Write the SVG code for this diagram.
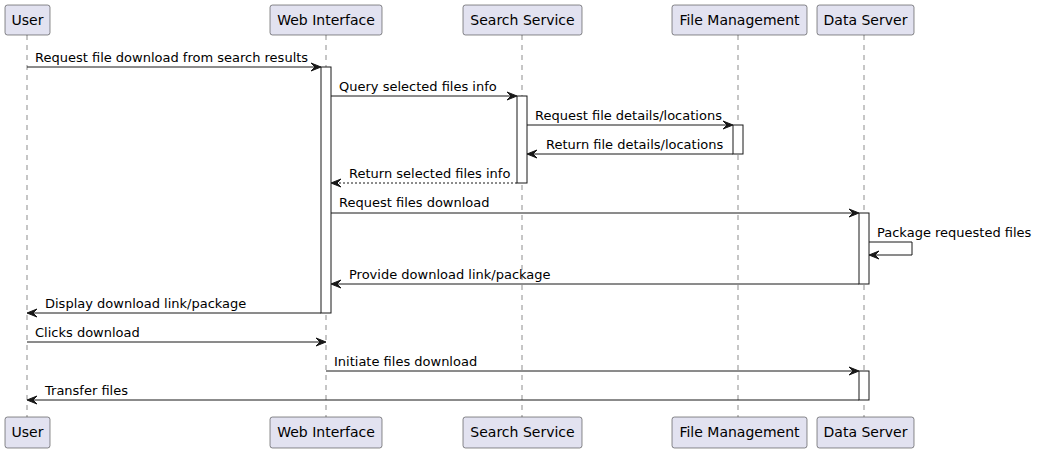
<svg xmlns="http://www.w3.org/2000/svg" width="1039" height="453" viewBox="0 0 1039 453">
<style>
.box{fill:#E2E2F0;stroke:#181818;stroke-width:0.5}
.life{stroke:#181818;stroke-width:0.5;stroke-dasharray:5,5;fill:none}
.act{fill:#FFFFFF;stroke:#181818;stroke-width:1}
.pt{font-family:"DejaVu Sans",sans-serif;font-size:14px;fill:#000000;text-anchor:middle}
.mt{font-family:"DejaVu Sans",sans-serif;font-size:13px;fill:#000000}
.msg{stroke:#181818;stroke-width:1;fill:none}
.dash{stroke-dasharray:2,2}
.ah{fill:#181818;stroke:#181818;stroke-width:1}
</style>
<rect width="1039" height="453" fill="#FFFFFF"/>
<g id="lifelines">
<line class="life" x1="27" y1="35" x2="27" y2="417"/>
<line class="life" x1="326" y1="35" x2="326" y2="417"/>
<line class="life" x1="522" y1="35" x2="522" y2="417"/>
<line class="life" x1="738" y1="35" x2="738" y2="417"/>
<line class="life" x1="864" y1="35" x2="864" y2="417"/>
</g>
<g id="user">
<rect class="box" x="5" y="5" width="45" height="30" rx="2.5"/>
<text class="pt" x="27.5" y="25">User</text>
<rect class="box" x="5" y="417" width="45" height="31" rx="2.5"/>
<text class="pt" x="27.5" y="437">User</text>
</g>
<g id="web">
<rect class="box" x="270" y="5" width="112" height="30" rx="2.5"/>
<text class="pt" x="326" y="25">Web Interface</text>
<rect class="box" x="270" y="417" width="112" height="31" rx="2.5"/>
<text class="pt" x="326" y="437">Web Interface</text>
<rect class="act" x="321" y="67" width="10" height="246"/>
</g>
<g id="search">
<rect class="box" x="463" y="5" width="119" height="30" rx="2.5"/>
<text class="pt" x="522.5" y="25">Search Service</text>
<rect class="box" x="463" y="417" width="119" height="31" rx="2.5"/>
<text class="pt" x="522.5" y="437">Search Service</text>
<rect class="act" x="517" y="96" width="10" height="87"/>
</g>
<g id="filemgmt">
<rect class="box" x="672" y="5" width="135" height="30" rx="2.5"/>
<text class="pt" x="739.5" y="25">File Management</text>
<rect class="box" x="672" y="417" width="135" height="31" rx="2.5"/>
<text class="pt" x="739.5" y="437">File Management</text>
<rect class="act" x="733" y="125" width="10" height="29"/>
</g>
<g id="dataserver">
<rect class="box" x="817" y="5" width="97" height="30" rx="2.5"/>
<text class="pt" x="865.5" y="25">Data Server</text>
<rect class="box" x="817" y="417" width="97" height="31" rx="2.5"/>
<text class="pt" x="865.5" y="437">Data Server</text>
<rect class="act" x="859" y="213" width="10" height="71"/>
<rect class="act" x="859" y="371" width="10" height="29"/>
</g>
<g id="connectors">
<line class="msg" x1="27" y1="67" x2="319" y2="67"/>
<polygon class="ah" points="311,63 321,67 311,71 315,67"/>
<text class="mt" x="35" y="62">Request file download from search results</text>

<line class="msg" x1="331" y1="96" x2="515" y2="96"/>
<polygon class="ah" points="507,92 517,96 507,100 511,96"/>
<text class="mt" x="339" y="91">Query selected files info</text>

<line class="msg" x1="527" y1="125" x2="731" y2="125"/>
<polygon class="ah" points="723,121 733,125 723,129 727,125"/>
<text class="mt" x="535" y="120">Request file details/locations</text>

<line class="msg" x1="733" y1="154" x2="529" y2="154"/>
<polygon class="ah" points="537,150 527,154 537,158 533,154"/>
<text class="mt" x="546" y="149">Return file details/locations</text>

<line class="msg dash" x1="517" y1="183" x2="333" y2="183"/>
<polygon class="ah" points="341,179 331,183 341,187 337,183"/>
<text class="mt" x="349" y="178">Return selected files info</text>

<line class="msg" x1="331" y1="213" x2="857" y2="213"/>
<polygon class="ah" points="849,209 859,213 849,217 853,213"/>
<text class="mt" x="339" y="207">Request files download</text>

<polyline class="msg" points="869,242 912,242 912,255 871,255"/>
<polygon class="ah" points="879,251 869,255 879,259 875,255"/>
<text class="mt" x="877" y="237">Package requested files</text>

<line class="msg" x1="859" y1="284" x2="333" y2="284"/>
<polygon class="ah" points="341,280 331,284 341,288 337,284"/>
<text class="mt" x="349" y="279">Provide download link/package</text>

<line class="msg" x1="321" y1="313" x2="29" y2="313"/>
<polygon class="ah" points="37,309 27,313 37,317 33,313"/>
<text class="mt" x="45" y="308">Display download link/package</text>

<line class="msg" x1="27" y1="342" x2="324" y2="342"/>
<polygon class="ah" points="316,338 326,342 316,346 320,342"/>
<text class="mt" x="35" y="337">Clicks download</text>

<line class="msg" x1="326" y1="371" x2="857" y2="371"/>
<polygon class="ah" points="849,367 859,371 849,375 853,371"/>
<text class="mt" x="334" y="366">Initiate files download</text>

<line class="msg" x1="859" y1="400" x2="29" y2="400"/>
<polygon class="ah" points="37,396 27,400 37,404 33,400"/>
<text class="mt" x="45" y="395">Transfer files</text>
</g>
</svg>
